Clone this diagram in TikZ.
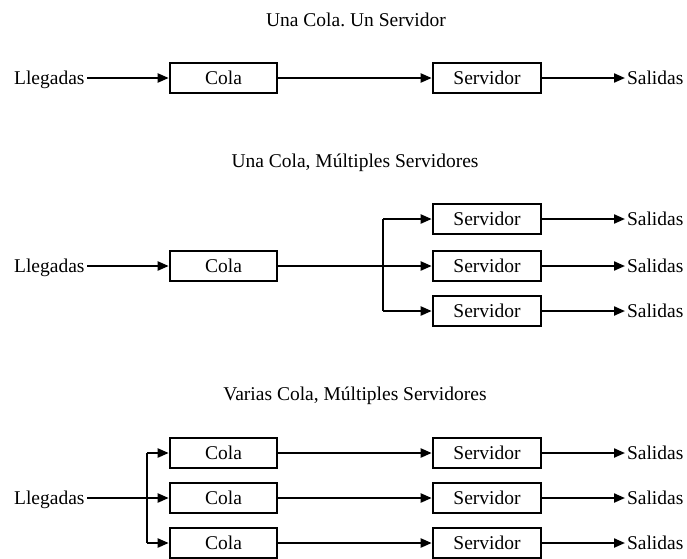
\documentclass[tikz,border=0pt]{standalone}
\usepackage{fontspec}
\setmainfont{Liberation Serif}
\usetikzlibrary{arrows.meta}
\begin{document}
\frenchspacing
\begin{tikzpicture}[x=1pt,y=-1pt,
  box/.style={draw, line width=2.6pt, minimum width=107pt, minimum height=30pt, inner sep=0pt},
  inlbl/.style={inner sep=0pt, text depth=0pt, outer sep=2.5pt, anchor=east},
  outlbl/.style={inner sep=0pt, text depth=0pt, outer sep=2pt, anchor=west},
  conn/.style={line width=2.1pt, -{Triangle[length=11pt,width=9pt]}},
  plain/.style={line width=2.1pt},
  font=\fontsize{19.5}{23}\selectfont]
\useasboundingbox (0,0) rectangle (687,558);

% ---------- Section 1 ----------
\node[inner sep=0pt] (t1) at (356,20) {Una Cola. Un Servidor};
\node[inlbl] (l1) at (87,78) {Llegadas};
\node[box] (c1) at (223.5,78) {Cola};
\node[box, minimum width=108pt] (s1) at (487,78) {Servidor};
\node[outlbl] (o1) at (625,78) {Salidas};
\draw[conn] (l1.east) -- (c1.west);
\draw[conn] (c1.east) -- (s1.west);
\draw[conn] (s1.east) -- (o1.west);

% ---------- Section 2 ----------
\node[inner sep=0pt] (t2) at (355,163) {Una Cola, Múltiples Servidores};
\node[inlbl] (l2) at (87,266) {Llegadas};
\node[box] (c2) at (223.5,266) {Cola};
\node[box, minimum width=108pt] (s2a) at (487,219) {Servidor};
\node[box, minimum width=108pt] (s2b) at (487,266) {Servidor};
\node[box, minimum width=108pt] (s2c) at (487,311) {Servidor};
\node[outlbl] (o2a) at (625,219) {Salidas};
\node[outlbl] (o2b) at (625,266) {Salidas};
\node[outlbl] (o2c) at (625,311) {Salidas};
\coordinate (b2a) at (383,219);
\coordinate (b2c) at (383,311);
\draw[conn] (l2.east) -- (c2.west);
\draw[conn] (c2.east) -- (s2b.west);
\draw[plain] (b2a) -- (b2c);
\draw[conn] (b2a) -- (s2a.west);
\draw[conn] (b2c) -- (s2c.west);
\draw[conn] (s2a.east) -- (o2a.west);
\draw[conn] (s2b.east) -- (o2b.west);
\draw[conn] (s2c.east) -- (o2c.west);

% ---------- Section 3 ----------
\node[inner sep=0pt] (t3) at (355,396) {Varias Cola, Múltiples Servidores};
\node[inlbl] (l3) at (87,498) {Llegadas};
\node[box] (c3a) at (223.5,453) {Cola};
\node[box] (c3b) at (223.5,498) {Cola};
\node[box] (c3c) at (223.5,543) {Cola};
\node[box, minimum width=108pt] (s3a) at (487,453) {Servidor};
\node[box, minimum width=108pt] (s3b) at (487,498) {Servidor};
\node[box, minimum width=108pt] (s3c) at (487,543) {Servidor};
\node[outlbl] (o3a) at (625,453) {Salidas};
\node[outlbl] (o3b) at (625,498) {Salidas};
\node[outlbl] (o3c) at (625,543) {Salidas};
\coordinate (b3a) at (147,453);
\coordinate (b3c) at (147,543);
\draw[conn] (l3.east) -- (c3b.west);
\draw[plain] (b3a) -- (b3c);
\draw[conn] (b3a) -- (c3a.west);
\draw[conn] (b3c) -- (c3c.west);
\draw[conn] (c3a.east) -- (s3a.west);
\draw[conn] (c3b.east) -- (s3b.west);
\draw[conn] (c3c.east) -- (s3c.west);
\draw[conn] (s3a.east) -- (o3a.west);
\draw[conn] (s3b.east) -- (o3b.west);
\draw[conn] (s3c.east) -- (o3c.west);
\end{tikzpicture}
\end{document}
